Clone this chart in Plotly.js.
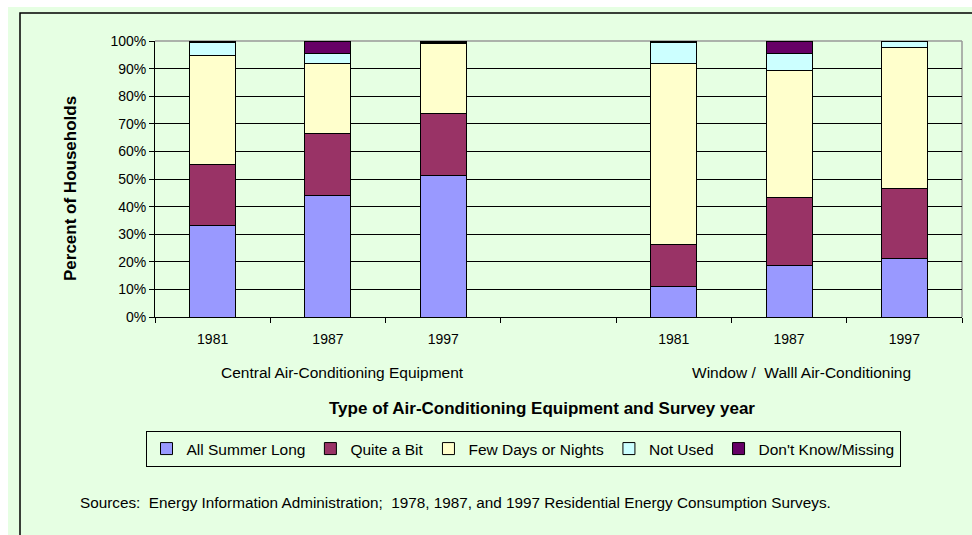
<!DOCTYPE html>
<html>
<head>
<meta charset="utf-8">
<script src="https://cdn.plot.ly/plotly-3.0.1.min.js"></script>
<style>html,body{margin:0;padding:0;background:#fff;}#chart{width:972px;height:535px;}</style>
</head>
<body>
<div id="chart"></div>
<script>
// ---- data ----
const years = ["1981", "1987", "1997", "", "1981", "1987", "1997"];
const groups = ["Central Air-Conditioning Equipment", "Window /  Walll Air-Conditioning"];
const seriesNames = ["All Summer Long", "Quite a Bit", "Few Days or Nights", "Not Used", "Don't Know/Missing"];
const allSummerLong = [33.0, 43.9, 51.2, null, 11.1, 18.6, 21.1];
const quiteABit     = [22.1, 22.7, 22.4, null, 15.1, 24.7, 25.3];
const fewDays       = [39.8, 25.1, 25.6, null, 65.7, 46.0, 51.2];
const notUsed       = [4.5, 3.9, 0.4, null, 7.6, 6.2, 2.4];
const dontKnow      = [0.6, 4.4, 0.4, null, 0.5, 4.5, 0.0];
const yTicks = [0, 10, 20, 30, 40, 50, 60, 70, 80, 90, 100];

const colors = ["#9999FF", "#993366", "#FFFFCC", "#CCFFFF", "#660066"];
const values = [allSummerLong, quiteABit, fewDays, notUsed, dontKnow];

const xIdx = years.map((_, i) => i);
const FONT = "Liberation Sans, Arial, sans-serif";

const traces = values.map((v, k) => ({
  type: "bar",
  name: seriesNames[k],
  x: xIdx,
  y: v,
  width: 0.4,
  marker: {color: colors[k], line: {color: "#000", width: 1}},
  hoverinfo: "name+y"
}));
// invisible trace to carry the boundary tick axis
traces.push({type: "scatter", x: [-0.5], y: [0], xaxis: "x2", mode: "markers",
  marker: {opacity: 0}, showlegend: false, hoverinfo: "skip"});

// pixel helpers for plot area (l=155, t=41, w=807, h=276)
const L = 155, T = 41, W = 807, H = 276;
const px = v => (v - L) / W;
const py = v => (T + H - v) / H;

const layout = {
  width: 972, height: 535,
  margin: {l: L, r: 972 - L - W, t: T, b: 535 - T - H},
  paper_bgcolor: "#ffffff",
  plot_bgcolor: "#E6FFE3",
  barmode: "stack",
  showlegend: true,
  font: {family: FONT, size: 14, color: "#000"},
  xaxis: {
    range: [-0.5, years.length - 0.5],
    tickvals: xIdx.filter(i => years[i] !== ""),
    ticktext: years.filter(y => y !== ""),
    ticks: "", showgrid: false, zeroline: false,
    showline: true, linecolor: "#000", linewidth: 1,
    ticklabelstandoff: 9,
    tickfont: {size: 14, family: FONT},
    fixedrange: true
  },
  xaxis2: {
    overlaying: "x", side: "bottom", anchor: "y",
    range: [-0.5, years.length - 0.5],
    tickvals: xIdx.concat([years.length]).map(i => i - 0.5),
    ticks: "outside", ticklen: 5, tickcolor: "#000", tickwidth: 1,
    showticklabels: false, showgrid: false, zeroline: false, showline: false
  },
  yaxis: {
    range: [0, 100],
    tickvals: yTicks,
    ticktext: yTicks.map(t => t + "%"),
    ticks: "outside", ticklen: 5, tickcolor: "#000",
    showgrid: true, gridcolor: "#000", gridwidth: 1,
    zeroline: false, showline: true, linecolor: "#000", linewidth: 1,
    tickfont: {size: 14, family: FONT},
    fixedrange: true
  },
  legend: {
    orientation: "h",
    x: px(523), xanchor: "center",
    y: py(431), yanchor: "top",
    bgcolor: "rgba(0,0,0,0)",
    bordercolor: "#000", borderwidth: 1,
    font: {size: 15.5, family: FONT},
    traceorder: "normal",
    itemclick: false, itemdoubleclick: false
  },
  shapes: [
    // outer green area
    {type: "rect", xref: "paper", yref: "paper", x0: px(8), x1: px(1000), y0: py(7), y1: py(560),
     fillcolor: "#E6FFE3", line: {width: 0}, layer: "below"},
    // outer frame
    {type: "rect", xref: "paper", yref: "paper", x0: px(20), x1: px(1000), y0: py(13), y1: py(560),
     fillcolor: "rgba(0,0,0,0)", line: {color: "#000", width: 1.5}, layer: "below"},
    // grey plot border top & right
    {type: "line", xref: "paper", yref: "paper", x0: 0, x1: 1, y0: 1, y1: 1,
     line: {color: "#999", width: 1.5}, layer: "below"},
    {type: "line", xref: "paper", yref: "paper", x0: 1, x1: 1, y0: 0, y1: 1,
     line: {color: "#999", width: 1.5}, layer: "below"}
  ],
  annotations: [
    {text: groups[0], xref: "paper", yref: "paper", x: px(342), y: py(372),
     xanchor: "center", yanchor: "middle", showarrow: false, font: {size: 15.5, family: FONT}},
    {text: groups[1], xref: "paper", yref: "paper", x: px(801), y: py(372),
     xanchor: "center", yanchor: "middle", showarrow: false, font: {size: 15.5, family: FONT}},
    {text: "<b>Type of Air-Conditioning Equipment and Survey year</b>", xref: "paper", yref: "paper",
     x: px(542), y: py(408), xanchor: "center", yanchor: "middle", showarrow: false,
     font: {size: 17, family: FONT}},
    {text: "<b>Percent of Households</b>", xref: "paper", yref: "paper",
     x: px(71), y: py(189), xanchor: "center", yanchor: "middle", textangle: -90, showarrow: false,
     font: {size: 17, family: FONT}},
    {text: "Sources:  Energy Information Administration;  1978, 1987, and 1997 Residential Energy Consumption Surveys.",
     xref: "paper", yref: "paper", x: px(78), y: py(503), xanchor: "left", yanchor: "middle",
     showarrow: false, font: {size: 15.3, family: FONT}}
  ]
};

Plotly.newPlot("chart", traces, layout, {displayModeBar: false, staticPlot: true});
</script>
</body>
</html>
